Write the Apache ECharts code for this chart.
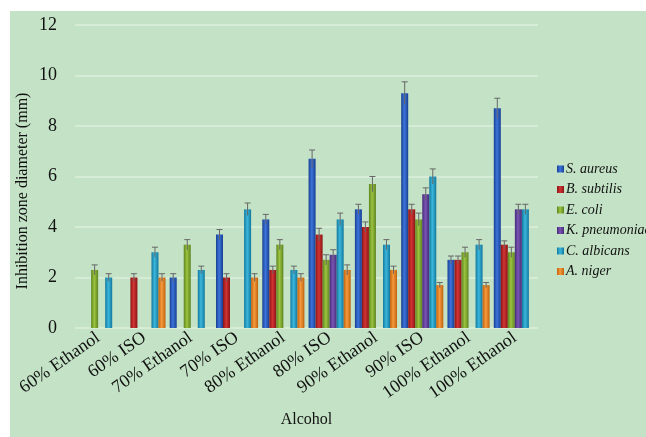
<!DOCTYPE html>
<html><head><meta charset="utf-8">
<script src="https://cdn.jsdelivr.net/npm/echarts@6/dist/echarts.min.js"></script>
<style>html,body{margin:0;padding:0;background:#fff;}#main{width:646px;height:437px;}</style>
</head><body><div id="main"></div>
<script>
const categories = ['60% Ethanol','60% ISO','70% Ethanol','70% ISO','80% Ethanol','80% ISO','90% Ethanol','90% ISO','100% Ethanol','100% Ethanol'];
const seriesNames = ['S. aureus','B. subtilis','E. coli','K. pneumoniae','C. albicans','A. niger'];
const sAureus      = [null, null, 2.0, 3.7, 4.3, 6.7, 4.7, 9.3, 2.7, 8.7];
const bSubtilis    = [null, 2.0, null, 2.0, 2.3, 3.7, 4.0, 4.7, 2.7, 3.3];
const eColi        = [2.3, null, 3.3, null, 3.3, 2.7, 5.7, 4.3, 3.0, 3.0];
const kPneumoniae  = [null, null, null, null, null, 2.9, null, 5.3, null, 4.7];
const cAlbicans    = [2.0, 3.0, 2.3, 4.7, 2.3, 4.3, 3.3, 6.0, 3.3, 4.7];
const aNiger       = [null, 2.0, null, 2.0, 2.0, 2.3, 2.3, 1.7, 1.7, null];
const errSAureus     = [0, 0, 0.15, 0.2, 0.2, 0.35, 0.2, 0.45, 0.15, 0.4];
const errBSubtilis   = [0, 0.15, 0, 0.15, 0.15, 0.25, 0.2, 0.2, 0.15, 0.15];
const errEColi       = [0.2, 0, 0.2, 0, 0.2, 0.2, 0.3, 0.25, 0.2, 0.2];
const errKPneumoniae = [0, 0, 0, 0, 0, 0.2, 0, 0.25, 0, 0.2];
const errCAlbicans   = [0.15, 0.2, 0.15, 0.25, 0.15, 0.25, 0.2, 0.3, 0.2, 0.2];
const errANiger      = [0, 0.15, 0, 0.15, 0.15, 0.2, 0.15, 0.1, 0.1, 0];
const yTicks = [0, 2, 4, 6, 8, 10, 12];

const values = [sAureus, bSubtilis, eColi, kPneumoniae, cAlbicans, aNiger];
const errors = [errSAureus, errBSubtilis, errEColi, errKPneumoniae, errCAlbicans, errANiger];
const palette = [
  ['#173f92', '#3d74da'],
  ['#8a1414', '#d33434'],
  ['#5d8420', '#9cc43f'],
  ['#462a78', '#7a55b5'],
  ['#12789c', '#3cb6dc'],
  ['#c0620e', '#f59a3c']
];
const catGap = 0.09;
function grad(c) {
  return new echarts.graphic.LinearGradient(0, 0, 1, 0, [
    {offset: 0, color: c[0]}, {offset: 0.45, color: c[1]}, {offset: 1, color: c[0]}
  ]);
}
const barSeries = seriesNames.map((name, i) => ({
  name: name, type: 'bar', data: values[i], barGap: '0%', barCategoryGap: (catGap * 100) + '%',
  itemStyle: {color: grad(palette[i])}
}));
const errData = [];
values.forEach((arr, si) => arr.forEach((v, ci) => {
  if (v != null) errData.push([ci, v, errors[si][ci], si]);
}));
const errSeries = {
  type: 'custom', name: 'err', data: errData, z: 10, silent: true,
  encode: {x: 0, y: 1},
  renderItem: function (params, api) {
    const ci = api.value(0), v = api.value(1), e = api.value(2), si = api.value(3);
    const catW = api.size([1, 0])[0];
    const groupW = catW * (1 - catGap);
    const bw = groupW / 6;
    const c = api.coord([ci, v]);
    const x = c[0] - groupW / 2 + (si + 0.5) * bw;
    const yTop = api.coord([ci, v + e])[1];
    const yBot = api.coord([ci, Math.max(v - e, 0)])[1];
    const st = {stroke: '#666', lineWidth: 1};
    return {type: 'group', children: [
      {type: 'line', shape: {x1: x, y1: yTop, x2: x, y2: yBot}, style: st},
      {type: 'line', shape: {x1: x - 3, y1: yTop, x2: x + 3, y2: yTop}, style: st}
    ]};
  }
};
const chart = echarts.init(document.getElementById('main'));
chart.setOption({
  animation: false,
  backgroundColor: '#ffffff',
  graphic: [
    {type: 'rect', left: 10, top: 11, shape: {width: 636, height: 426}, style: {fill: '#c4e3c6'}, z: -10, silent: true},
    {type: 'text', x: 23, y: 191, rotation: Math.PI / 2, silent: true,
     style: {text: 'Inhibition zone diameter (mm)', fontFamily: 'Liberation Serif', fontSize: 16, fill: '#111', align: 'center', verticalAlign: 'middle'}}
  ],
  grid: {left: 75, right: 108, top: 25, bottom: 109},
  legend: {
    data: seriesNames, orient: 'vertical', left: 552, top: 157, itemWidth: 7, itemHeight: 7, itemGap: 6.5,
    icon: 'rect',
    textStyle: {fontFamily: 'Liberation Serif', fontStyle: 'italic', fontSize: 14, color: '#111', padding: [0,0,0,-3]}
  },
  xAxis: {
    type: 'category', data: categories,
    name: 'Alcohol', nameLocation: 'middle', nameGap: 84,
    nameTextStyle: {fontFamily: 'Liberation Serif', fontSize: 16, color: '#111'},
    axisLine: {show: false}, axisTick: {show: false},
    axisLabel: {rotate: 35, interval: 0, fontFamily: 'Liberation Serif', fontSize: 18, color: '#111', margin: 8}
  },
  yAxis: {
    type: 'value', min: 0, max: 12, interval: 2,
    axisLine: {show: false}, axisTick: {show: false},
    axisLabel: {fontFamily: 'Liberation Serif', fontSize: 18, color: '#111', margin: 18,
      formatter: v => yTicks.includes(v) ? String(v) : ''},
    splitLine: {lineStyle: {color: '#dcefdc', width: 1.5}}
  },
  series: barSeries.concat([errSeries])
});
</script></body></html>
